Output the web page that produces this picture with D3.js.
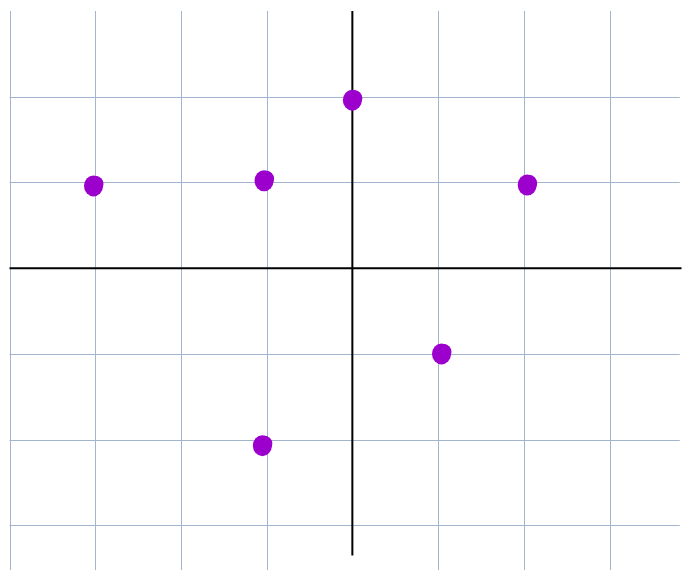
<!DOCTYPE html>
<html><head><meta charset="utf-8">
<script src="https://cdn.jsdelivr.net/npm/d3@7"></script>
<style>html,body{margin:0;padding:0;background:#fff;}svg{display:block;}</style>
</head><body>
<svg id="c" width="682" height="571"></svg>
<script>
// data points
const xs = [-3.02, -1.03, 0.0, 2.04, 1.04, -1.05];
const ys = [0.96, 1.02, 1.96, 0.97, -1.0, -2.07];
const xGridTicks = [-4, -3, -2, -1, 1, 2, 3];
const yGridTicks = [2, 1, -1, -2, -3];

const svg = d3.select("#c");
const x = d3.scaleLinear().domain([-4, 3.84]).range([9.5, 681.5]);
const y = d3.scaleLinear().domain([3, -3.52]).range([11, 570]);

const grid = svg.append("g").attr("stroke", "#a3b5cd").attr("stroke-width", 1);
grid.selectAll("line.v").data(xGridTicks).join("line")
  .attr("x1", d => Math.round(x(d)) + 0.5).attr("x2", d => Math.round(x(d)) + 0.5)
  .attr("y1", y(3)).attr("y2", y(-3.52));
grid.selectAll("line.h").data(yGridTicks).join("line")
  .attr("y1", d => Math.round(y(d)) + 0.5).attr("y2", d => Math.round(y(d)) + 0.5)
  .attr("x1", x(-4)).attr("x2", x(3.82));

const ax = svg.append("g").attr("stroke", "#000").attr("stroke-width", 2);
ax.append("line").attr("x1", x(-4)).attr("x2", x(3.84)).attr("y1", y(0)).attr("y2", y(0));
ax.append("line").attr("x1", x(0)).attr("x2", x(0)).attr("y1", y(3)).attr("y2", y(-3.35));

const pts = svg.append("g").attr("fill", "#9b00cc")
  .selectAll("g").data(xs.map((v, i) => [v, ys[i]])).join("g")
  .attr("transform", d => `translate(${x(d[0])},${y(d[1])})`);
pts.append("ellipse").attr("rx", 9.5).attr("ry", 10.5);
pts.append("circle").attr("cx", 2).attr("cy", -2).attr("r", 8);
</script>
</body></html>
